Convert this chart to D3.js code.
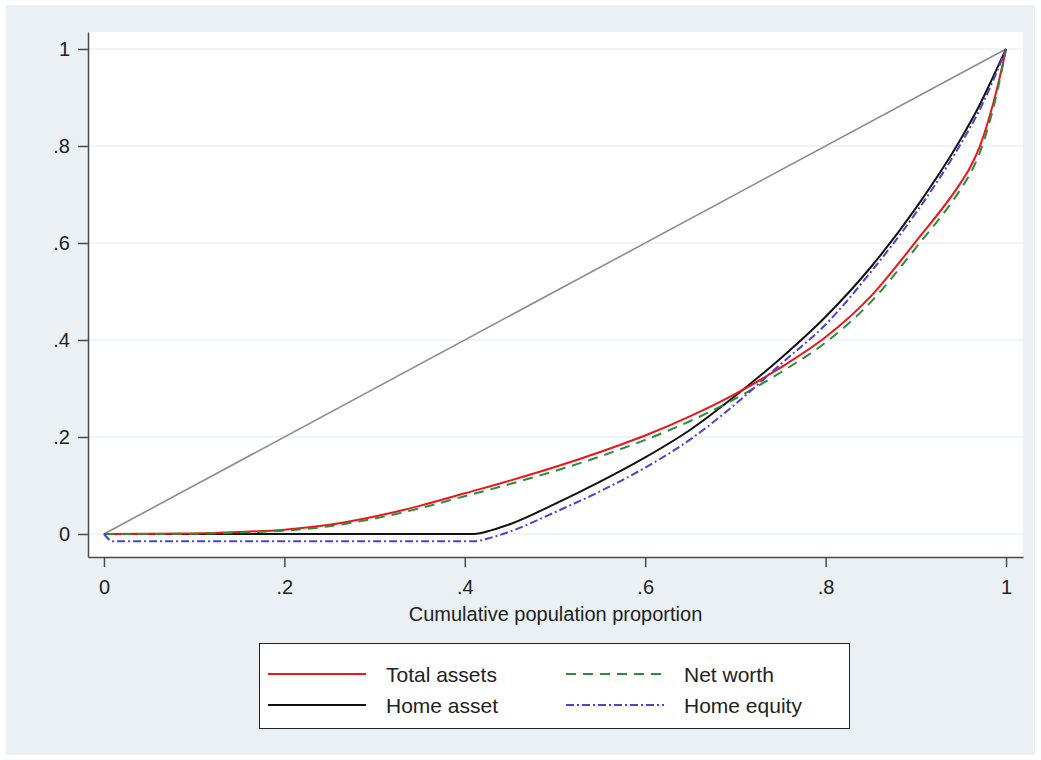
<html>
<head>
<style>
body { margin: 0; background: #fff; }
text { font-family: Arial, "Liberation Sans", sans-serif; }
</style>
</head>
<body>
<div id="chart"></div>
<script src="https://d3js.org/d3.v7.min.js"></script>
<script>

// cumulative population share and the Lorenz values
var pShare = [0, 0.1, 0.15, 0.2, 0.25, 0.3, 0.35, 0.4, 0.45, 0.5, 0.55, 0.6, 0.65, 0.7, 0.75, 0.8, 0.85, 0.9, 0.95, 0.96, 0.97, 0.98, 0.99, 1]
var totalAssets = [0, 0.001, 0.004, 0.009, 0.019, 0.036, 0.058, 0.084, 0.11, 0.138, 0.169, 0.203, 0.243, 0.289, 0.343, 0.406, 0.49, 0.603, 0.725, 0.755, 0.795, 0.85, 0.918, 1]
var netWorth = [0, 0.0005, 0.003, 0.007, 0.016, 0.032, 0.053, 0.078, 0.103, 0.13, 0.16, 0.194, 0.233, 0.279, 0.333, 0.395, 0.478, 0.59, 0.712, 0.742, 0.782, 0.838, 0.91, 1]

var pHome = [0, 0.41, 0.43, 0.45, 0.5, 0.55, 0.6, 0.65, 0.7, 0.75, 0.8, 0.85, 0.9, 0.95, 0.97, 0.985, 1]
var homeAsset = [0, 0, 0.008, 0.02, 0.062, 0.108, 0.158, 0.215, 0.285, 0.362, 0.448, 0.55, 0.672, 0.815, 0.882, 0.94, 1]

var pEquity = [0, 0.01, 0.41, 0.43, 0.45, 0.5, 0.55, 0.6, 0.65, 0.7, 0.75, 0.8, 0.85, 0.9, 0.95, 0.97, 0.985, 1]
var homeEquity = [0, -0.015, -0.015, -0.007, 0.005, 0.045, 0.088, 0.137, 0.195, 0.268, 0.35, 0.432, 0.54, 0.662, 0.805, 0.872, 0.932, 1]

var tickVals = [0, 0.2, 0.4, 0.6, 0.8, 1]
var tickLabels = ["0", ".2", ".4", ".6", ".8", "1"]

var red = "#f0131a"
var green = "#2e8b3a"
var black = "#111"
var blue = "#4a42d6"
var bgColor = "#eaf0f3"

var W = 1041, H = 760
var plot = {left: 88, right: 1023, top: 32, bottom: 557}

var svg = d3.select("#chart")
  .append("svg")
  .attr("width", W)
  .attr("height", H)

// graph region
svg.append("rect")
  .attr("x", 6).attr("y", 5)
  .attr("width", W - 12).attr("height", H - 10)
  .attr("fill", bgColor)

svg.append("rect")
  .attr("x", plot.left).attr("y", plot.top)
  .attr("width", plot.right - plot.left).attr("height", plot.bottom - plot.top)
  .attr("fill", "#fff")

var x = d3.scaleLinear()
  .domain([-0.0177, 1.0188])
  .range([plot.left, plot.right])

var y = d3.scaleLinear()
  .domain([-0.0474, 1.035])
  .range([plot.bottom, plot.top])

// grid
svg.selectAll(".grid")
  .data(tickVals)
  .enter().append("line")
  .attr("class", "grid")
  .attr("x1", plot.left).attr("x2", plot.right)
  .attr("y1", d => y(d)).attr("y2", d => y(d))
  .attr("stroke", bgColor)
  .attr("stroke-width", 1.5)

var fmt = function(d, i){ return tickLabels[i] }

var yAxis = d3.axisLeft(y)
  .tickValues(tickVals)
  .tickFormat(fmt)
  .tickSize(10)
  .tickSizeOuter(0)
  .tickPadding(8)

var xAxis = d3.axisBottom(x)
  .tickValues(tickVals)
  .tickFormat(fmt)
  .tickSize(10)
  .tickSizeOuter(0)
  .tickPadding(13)

var gy = svg.append("g")
  .attr("class", "y axis")
  .attr("transform", "translate(" + plot.left + ",0)")
  .call(yAxis)

var gx = svg.append("g")
  .attr("class", "x axis")
  .attr("transform", "translate(0," + plot.bottom + ")")
  .call(xAxis)

svg.selectAll(".axis path, .axis line")
  .attr("stroke", "#4a4a4a")
  .attr("stroke-width", 1.5)
svg.selectAll(".axis text")
  .attr("font-size", 20)
  .attr("fill", "#222")
  .attr("font-family", "Arial, 'Liberation Sans', sans-serif")

svg.append("text")
  .attr("x", (plot.left + plot.right) / 2)
  .attr("y", 621)
  .attr("text-anchor", "middle")
  .attr("font-size", 20)
  .attr("fill", "#222")
  .text("Cumulative population proportion")

// curves
var line = d3.line()
  .x(d => x(d[0]))
  .y(d => y(d[1]))
  .curve(d3.curveMonotoneX)

var g = svg.append("g")

g.append("path")
  .datum([[0, 0], [1, 1]])
  .attr("d", line)
  .attr("fill", "none")
  .attr("stroke", "#8c8c8c")
  .attr("stroke-width", 1.6)

var series = [
  {name: "Total assets", xs: pShare, ys: totalAssets, color: red, dash: null},
  {name: "Net worth", xs: pShare, ys: netWorth, color: green, dash: "10,7"},
  {name: "Home asset", xs: pHome, ys: homeAsset, color: black, dash: null},
  {name: "Home equity", xs: pEquity, ys: homeEquity, color: blue, dash: "8,3,2,3"}
]

var drawOrder = [2, 0, 1, 3]
drawOrder.forEach(function(k){
  var s = series[k]
  g.append("path")
    .datum(s.xs.map((v, i) => [v, s.ys[i]]))
    .attr("d", line)
    .attr("fill", "none")
    .attr("stroke", s.color)
    .attr("stroke-width", 2)
    .attr("stroke-dasharray", s.dash)
})

// legend
var legend = svg.append("g")
legend.append("rect")
  .attr("x", 259.5).attr("y", 643.5)
  .attr("width", 590).attr("height", 85)
  .attr("fill", "#fff")
  .attr("stroke", "#222")
  .attr("stroke-width", 1)

var legPos = [
  {lx: 268, ty: 674},
  {lx: 566, ty: 674},
  {lx: 268, ty: 705},
  {lx: 566, ty: 705}
]

series.forEach(function(s, i){
  var p = legPos[i]
  legend.append("line")
    .attr("x1", p.lx).attr("x2", p.lx + 98)
    .attr("y1", p.ty).attr("y2", p.ty)
    .attr("stroke", s.color)
    .attr("stroke-width", 2)
    .attr("stroke-dasharray", s.dash)
  legend.append("text")
    .attr("x", p.lx + 118)
    .attr("y", p.ty)
    .attr("dy", "0.36em")
    .attr("font-size", 21)
    .attr("fill", "#222")
    .text(s.name)
})

</script>
</body>
</html>
